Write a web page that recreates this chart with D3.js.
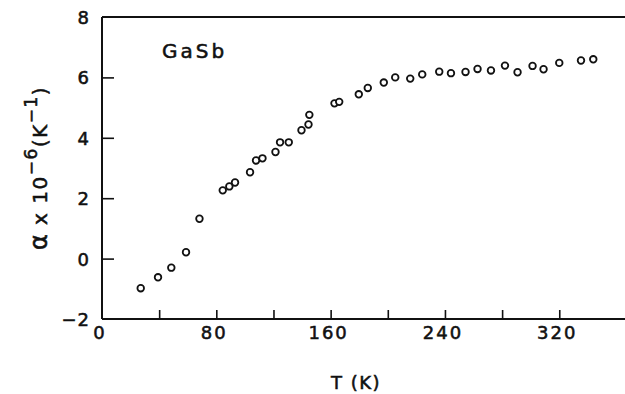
<!DOCTYPE html>
<html>
<head>
<meta charset="utf-8">
<script src="https://cdn.jsdelivr.net/npm/d3@7"></script>
<style>
  html, body { margin: 0; padding: 0; background: #fff; }
  svg { display: block; }
  text { font-family: "DejaVu Sans", sans-serif; fill: #111; stroke: #111; stroke-width: 0.55px; }
</style>
</head>
<body>
<svg id="chart" width="625" height="394"></svg>
<script>
// Thermal expansion coefficient of GaSb vs temperature
const temperatureK = [27.1, 39.2, 48.5, 58.8, 68.2, 84.5, 89.1, 93.1, 103.6, 107.8, 112.3, 121.4,
  124.6, 130.7, 139.6, 144.5, 145.1, 162.7, 166.0, 179.7, 186.0, 197.2, 205.2, 215.7, 224.1,
  236.0, 244.2, 254.4, 262.8, 272.2, 282.0, 290.8, 301.3, 309.0, 320.0, 335.2, 343.8];
const alphaE6 = [-0.98, -0.62, -0.30, 0.21, 1.32, 2.26, 2.39, 2.52, 2.86, 3.25, 3.32, 3.53,
  3.85, 3.85, 4.25, 4.44, 4.76, 5.14, 5.19, 5.44, 5.65, 5.83, 6.00, 5.96, 6.10,
  6.19, 6.14, 6.18, 6.28, 6.23, 6.39, 6.17, 6.38, 6.27, 6.48, 6.56, 6.60];
const xTicks = [40, 80, 120, 160, 200, 240, 280, 320];
const xTickLabels = [0, 80, 160, 240, 320];
const yTicks = [-2, 0, 2, 4, 6, 8];

const svg = d3.select("#chart");
const x = d3.scaleLinear().domain([0, 366]).range([102, 625]);
const y = d3.scaleLinear().domain([-2, 8]).range([319, 17]);

// frame (open at the right, running past the edge)
const frame = svg.append("g").attr("stroke", "#111").attr("stroke-width", 2).attr("fill", "none");
frame.append("line").attr("x1", x(0)).attr("x2", x(0)).attr("y1", y(8)).attr("y2", y(-2));
frame.append("line").attr("x1", x(0)).attr("x2", 625).attr("y1", y(8)).attr("y2", y(8));
frame.append("line").attr("x1", x(0)).attr("x2", 625).attr("y1", y(-2)).attr("y2", y(-2));

// inward ticks
const xAxis = d3.axisTop(x).tickValues(xTicks).tickSize(9).tickFormat("");
const gx = svg.append("g").attr("transform", `translate(0,${y(-2)})`).call(xAxis);
gx.select(".domain").remove();
gx.selectAll("line").attr("stroke", "#111").attr("stroke-width", 1.6);

const yAxis = d3.axisRight(y).tickValues(yTicks.filter(v => v > -2 && v < 8)).tickSize(12).tickFormat("");
const gy = svg.append("g").attr("transform", `translate(${x(0)},0)`).call(yAxis);
gy.select(".domain").remove();
gy.selectAll("line").attr("stroke", "#111").attr("stroke-width", 1.6);

// tick labels
svg.append("g").selectAll("text").data(xTickLabels).join("text")
  .attr("x", d => x(d) - 2).attr("y", 339)
  .attr("text-anchor", "middle").attr("font-size", 18).attr("letter-spacing", 2)
  .text(d => d);
svg.append("g").selectAll("text").data(yTicks).join("text")
  .attr("x", 90).attr("y", d => y(d) + 7)
  .attr("text-anchor", "end").attr("font-size", 18).attr("letter-spacing", 1)
  .text(d => d < 0 ? "−" + Math.abs(d) : d);

// axis titles
svg.append("text").attr("x", 356).attr("y", 389).attr("text-anchor", "middle")
  .attr("font-size", 18).attr("letter-spacing", 1.5).text("T (K)");

const yt = svg.append("text").attr("transform", "translate(47,168) rotate(-90)")
  .attr("text-anchor", "middle").attr("font-size", 20).attr("letter-spacing", 1.5);
yt.append("tspan").attr("font-size", 24).text("α");
yt.append("tspan").text(" x 10");
yt.append("tspan").attr("dy", -10).attr("font-size", 17).text("−6");
yt.append("tspan").attr("dy", 10).text("(K");
yt.append("tspan").attr("dy", -10).attr("font-size", 17).text("−1");
yt.append("tspan").attr("dy", 10).text(")");

// sample label
svg.append("text").attr("x", 162).attr("y", 58).attr("font-size", 20)
  .attr("letter-spacing", 3).text("GaSb");

// data points
svg.append("g").selectAll("circle").data(temperatureK).join("circle")
  .attr("cx", d => x(d))
  .attr("cy", (d, i) => y(alphaE6[i]))
  .attr("r", 3.3)
  .attr("fill", "#fff").attr("stroke", "#111").attr("stroke-width", 1.8);
</script>
</body>
</html>
